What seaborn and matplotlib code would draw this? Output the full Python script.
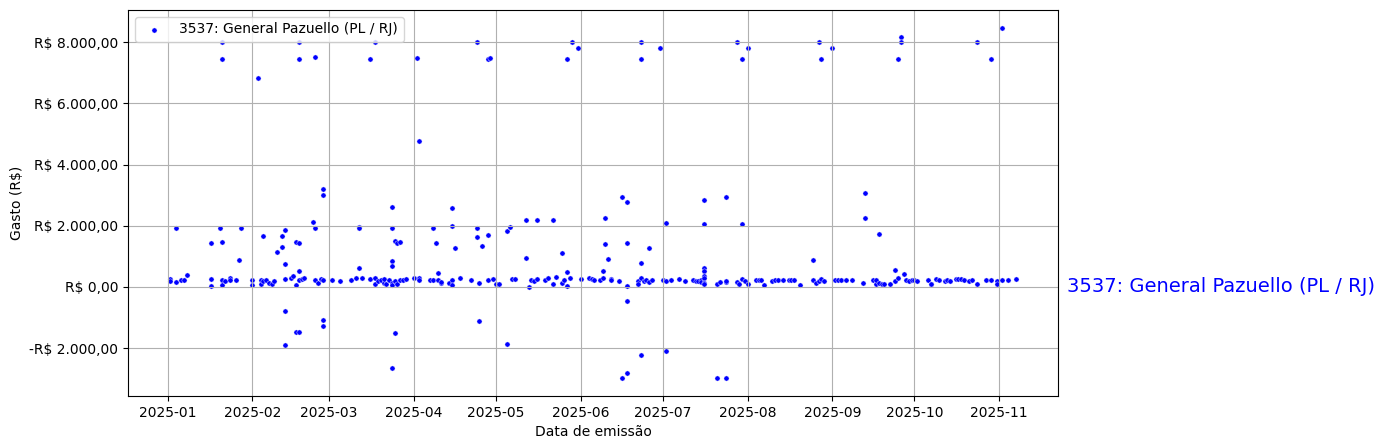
#importing the libraries
import pandas as pd
import matplotlib
matplotlib.use("Agg")
import matplotlib.pyplot as plt
import matplotlib.dates as mdates
import matplotlib.ticker as mticker
import matplotlib.transforms as mtransforms
import seaborn as sns

# deputy expenses
deputado = "3537: General Pazuello (PL / RJ)"

datas_jan = ["01-02", "01-02", "01-04", "01-04", "01-06", "01-07", "01-08", "01-17", "01-17", "01-17",
             "01-20", "01-21", "01-21", "01-21", "01-21", "01-21", "01-22", "01-24", "01-24", "01-26",
             "01-27", "01-28"]
valores_jan = [262, 197, 153, 1924, 219, 219, 383, 1432, 262, 22,
               1924, 8000, 7465, 1475, 219, 66, 197, 295, 219, 219,
               885, 1924]

datas_fev = ["02-01", "02-01", "02-03", "02-04", "02-04", "02-05", "02-05", "02-06", "02-07", "02-08",
             "02-09", "02-10", "02-12", "02-12", "02-13", "02-13", "02-13", "02-13", "02-13", "02-15",
             "02-16", "02-17", "02-17", "02-17", "02-18", "02-18", "02-18", "02-18", "02-18", "02-18",
             "02-19", "02-20", "02-23", "02-24", "02-24", "02-24", "02-25", "02-26", "02-27", "02-27",
             "02-27", "02-27", "02-27"]
valores_fev = [240, 66, 6842, 219, 109, 1661, 197, 219, 120, 87,
               197, 1137, 1661, 1300, 1858, 743, 262, -798, -1913, 284,
               350, 1465, 66, -1487, 1443, 514, 8000, 7465, 240, -1487,
               262, 284, 2120, 1924, 7530, 240, 131, 262, 3203, 3006,
               240, -1093, -1290]

datas_mar = ["03-02", "03-05", "03-09", "03-11", "03-12", "03-12", "03-12", "03-13", "03-16", "03-16",
             "03-18", "03-18", "03-18", "03-19", "03-20", "03-21", "03-21", "03-22", "03-23", "03-24",
             "03-24", "03-24", "03-24", "03-24", "03-24", "03-24", "03-25", "03-25", "03-25", "03-26",
             "03-26", "03-27", "03-27", "03-28", "03-29"]
valores_mar = [219, 197, 240, 284, 1957, 1924, 612, 284, 7465, 262,
               8000, 284, 87, 197, 240, 131, 262, 87, 219, 2612,
               1924, 852, 678, 131, 66, -2667, 1500, 197, -1519, 1430,
               109, 1475, 240, 219, 262]

datas_abr = ["04-01", "04-02", "04-03", "04-03", "04-03", "04-07", "04-08", "04-08", "04-09", "04-10",
             "04-10", "04-11", "04-11", "04-14", "04-15", "04-15", "04-15", "04-15", "04-16", "04-18",
             "04-22", "04-24", "04-24", "04-24", "04-25", "04-25", "04-26", "04-28", "04-28", "04-28",
             "04-29", "04-30"]
valores_abr = [284, 7498, 4776, 306, 240, 240, 1924, 219, 1432, 448,
               219, 131, 153, 131, 2580, 1990, 240, 66, 1268, 295,
               219, 8000, 1924, 1628, 131, -1126, 1334, 7465, 1694, 240,
               7498, 262]

datas_mai = ["05-01", "05-02", "05-05", "05-05", "05-06", "05-07", "05-08", "05-12", "05-12", "05-13",
             "05-14", "05-15", "05-16", "05-16", "05-19", "05-20", "05-22", "05-22", "05-23", "05-25",
             "05-25", "05-26", "05-27", "05-27", "05-27", "05-28", "05-29", "05-31"]
valores_mai = [109, 87, 1825, -1880, 1957, 262, 273, 2186, 940, -10,
               240, 197, 262, 2186, 219, 284, 2186, 87, 328, 1104,
               131, 219, 500, 22, 7465, 284, 8000, 7826]

datas_jun = ["06-01", "06-04", "06-05", "06-06", "06-08", "06-09", "06-09", "06-10", "06-10", "06-11",
             "06-12", "06-12", "06-15", "06-16", "06-16", "06-18", "06-18", "06-18", "06-18", "06-18",
             "06-22", "06-22", "06-23", "06-23", "06-23", "06-23", "06-23", "06-24", "06-25", "06-26",
             "06-26", "06-27", "06-30"]
valores_jun = [262, 295, 273, 240, 240, 514, 284, 2252, 1400, 907,
               262, 240, 186, 2940, -2995, 2776, 1432, 22, -470, -2831,
               197, 98, 776, 8000, 7465, -2241, 284, 197, 219, 1268,
               153, 219, 7826]

datas_jul = ["07-01", "07-02", "07-02", "07-02", "07-04", "07-07", "07-09", "07-12", "07-13", "07-14",
             "07-15", "07-15", "07-16", "07-16", "07-16", "07-16", "07-16", "07-16", "07-16", "07-16",
             "07-21", "07-21", "07-22", "07-24", "07-24", "07-24", "07-24", "07-28", "07-28", "07-29",
             "07-30", "07-30", "07-30", "07-31"]
valores_jul = [219, 2088, -2110, 197, 219, 273, 186, 219, 197, 197,
               240, 153, 2842, 2055, 612, 514, 350, 284, 131, 87,
               -2995, 109, 153, 2940, -2995, 175, 197, 8000, 164, 87,
               7465, 2055, 262, 197]

datas_ago = ["08-01", "08-01", "08-04", "08-05", "08-06", "08-07", "08-10", "08-11", "08-12", "08-14",
             "08-16", "08-17", "08-18", "08-20", "08-25", "08-25", "08-26", "08-27", "08-27", "08-28",
             "08-28", "08-29"]
valores_ago = [7826, 109, 230, 219, 240, 66, 186, 219, 240, 240,
               219, 219, 219, 77, 874, 240, 131, 8000, 197, 7465,
               262, 197]

datas_set = ["09-01", "09-02", "09-03", "09-04", "09-06", "09-08", "09-12", "09-13", "09-13", "09-16",
             "09-17", "09-17", "09-18", "09-18", "09-19", "09-20", "09-22", "09-24", "09-24", "09-25",
             "09-25", "09-26", "09-26", "09-27", "09-28", "09-29", "09-30"]
valores_set = [7826, 240, 240, 240, 219, 219, 120, 3071, 2252, 219,
               98, 219, 1727, 131, 87, 109, 87, 557, 197, 7465,
               284, 8187, 8000, 415, 240, 186, 240]

datas_out = ["10-01", "10-02", "10-06", "10-07", "10-07", "10-09", "10-10", "10-12", "10-13", "10-14",
             "10-16", "10-17", "10-18", "10-19", "10-21", "10-22", "10-24", "10-24", "10-27", "10-29",
             "10-29", "10-31", "10-31"]
valores_out = [240, 186, 219, 87, 87, 262, 240, 197, 219, 197,
               262, 273, 262, 230, 208, 230, 8000, 87, 219, 7465,
               219, 197, 109]

datas_nov = ["11-02", "11-02", "11-04", "11-07"]
valores_nov = [8482, 219, 219, 262]

datas = (datas_jan + datas_fev + datas_mar + datas_abr + datas_mai + datas_jun
         + datas_jul + datas_ago + datas_set + datas_out + datas_nov)
valores = (valores_jan + valores_fev + valores_mar + valores_abr + valores_mai + valores_jun
           + valores_jul + valores_ago + valores_set + valores_out + valores_nov)

df = pd.DataFrame({"Data de emissão": pd.to_datetime(["2025-" + d for d in datas]),
                   "Gasto": valores})


def reais(v, pos=None):
    # brazilian currency format
    s = f"{abs(v):,.2f}".replace(",", "X").replace(".", ",").replace("X", ".")
    return ("-R$ " if v < 0 else "R$ ") + s


fig = plt.figure(figsize=(13.84, 4.48), dpi=100)
ax = fig.add_axes([128 / 1384, 1 - 396 / 448, 930 / 1384, 386 / 448])

sns.scatterplot(data=df, x="Data de emissão", y="Gasto", color="blue", s=14,
                label=deputado, ax=ax)

ax.xaxis.set_major_locator(mdates.MonthLocator())
ax.xaxis.set_major_formatter(mdates.DateFormatter("%Y-%m"))
ax.yaxis.set_major_locator(mticker.MultipleLocator(2000))
ax.yaxis.set_major_formatter(mticker.FuncFormatter(reais))
ax.set_xlabel("Data de emissão")
ax.set_ylabel("Gasto (R$)")
ax.grid(True)
ax.legend(loc="upper left")

# name of the deputy at the right of the axes, at zero
trans = mtransforms.blended_transform_factory(ax.transAxes, ax.transData)
ax.text(1.01, 0, deputado, transform=trans, color="blue", fontsize=14, va="center", ha="left")

fig.savefig("out.png", dpi=100)
